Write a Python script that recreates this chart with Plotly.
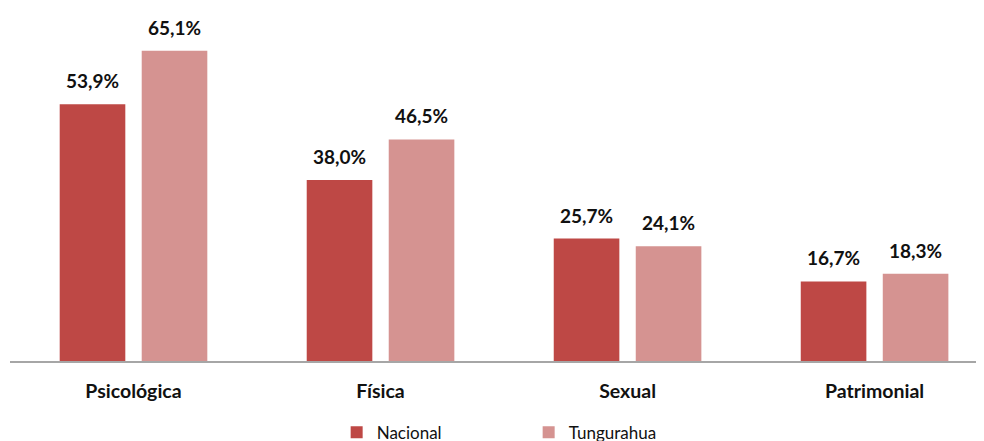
import plotly.graph_objects as go

categories = ["Psicológica", "Física", "Sexual", "Patrimonial"]
nacional = [53.9, 38.0, 25.7, 16.7]
tungurahua = [65.1, 46.5, 24.1, 18.3]
series_names = ["Nacional", "Tungurahua"]

col_nac = "#BE4845"
col_tun = "#D59391"
font_fam = "Lato, 'Open Sans', sans-serif"
text_col = "#111111"

def fmt(v):
    return f"{v:.1f}".replace(".", ",") + "%"

fig = go.Figure()
fig.add_trace(go.Bar(x=categories, y=nacional, name=series_names[0],
                     marker=dict(color=col_nac, line=dict(width=0))))
fig.add_trace(go.Bar(x=categories, y=tungurahua, name=series_names[1],
                     marker=dict(color=col_tun, line=dict(width=0))))

annotations = []
for cat, vn, vt in zip(categories, nacional, tungurahua):
    for v, shift in ((vn, -41), (vt, 41)):
        annotations.append(dict(x=cat, y=v, xref="x", yref="y", text=f"<b>{fmt(v)}</b>",
                                showarrow=False, xshift=shift, yanchor="bottom", yshift=10,
                                font=dict(family=font_fam, size=19, color=text_col)))

fig.update_layout(
    width=984, height=441,
    margin=dict(l=2, r=8, t=12, b=88),
    paper_bgcolor="white", plot_bgcolor="white",
    barmode="group", bargap=0.336, bargroupgap=0.2,
    annotations=annotations,
    xaxis=dict(range=[-0.5, 3.443], showline=True, linecolor="#A6A6A6", linewidth=2,
               showgrid=False, ticks="", ticklabelstandoff=12, automargin=False,
               tickfont=dict(family=font_fam, size=19.5, color=text_col),
               tickvals=categories, ticktext=[f"<b>{c}</b>" for c in categories]),
    yaxis=dict(range=[0, 71.56], visible=False, showgrid=False, automargin=False),
    showlegend=True,
    legend=dict(orientation="h", xref="container", yref="container",
                x=0.334, xanchor="left", y=0.078, yanchor="top",
                font=dict(family=font_fam, size=17, color=text_col),
                entrywidth=147, entrywidthmode="pixels", itemclick=False),
)

fig.write_html("out.html")
